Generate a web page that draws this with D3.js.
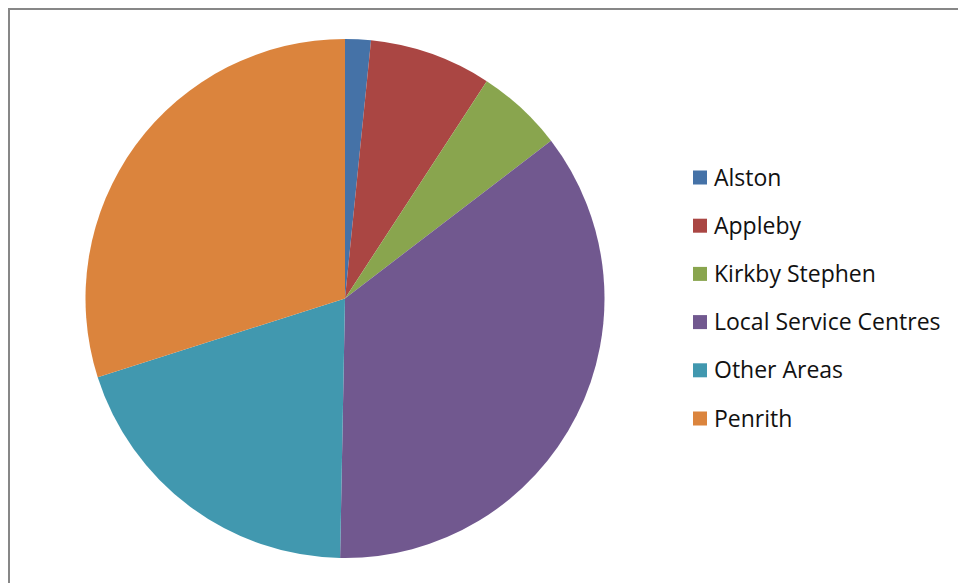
<!DOCTYPE html>
<html>
<head>
<meta charset="utf-8">
<script src="https://cdn.jsdelivr.net/npm/d3@7"></script>
<style>
  html, body { margin: 0; padding: 0; background: #fff; }
  svg { display: block; }
</style>
</head>
<body>
<svg id="chart" width="958" height="583"></svg>
<script>
// Share of the area, by settlement
const categories = ["Alston", "Appleby", "Kirkby Stephen", "Local Service Centres", "Other Areas", "Penrith"];
const values = [1.6, 7.6, 5.4, 35.7, 19.8, 29.9];
const colors = ["#4572A7", "#AA4643", "#89A54E", "#71588F", "#4198AF", "#DB843D"];

const svg = d3.select("#chart");

// Chart frame (runs off the right and bottom edges)
svg.append("rect")
  .attr("x", 9).attr("y", 9)
  .attr("width", 1000).attr("height", 700)
  .attr("fill", "#fff")
  .attr("stroke", "#878787")
  .attr("stroke-width", 2);

const cx = 345, cy = 298.5, r = 259.5;

const pie = d3.pie().sort(null).value(d => d.value);
const arc = d3.arc().innerRadius(0).outerRadius(r);
const color = d3.scaleOrdinal().domain(categories).range(colors);

const data = categories.map((c, i) => ({ name: c, value: values[i] }));

svg.append("g")
  .attr("transform", `translate(${cx},${cy})`)
  .selectAll("path")
  .data(pie(data))
  .join("path")
  .attr("d", arc)
  .attr("fill", d => color(d.data.name));

// Legend
const legendY = d3.scalePoint().domain(categories).range([177.5, 418.5]);
const legend = svg.append("g")
  .selectAll("g")
  .data(categories)
  .join("g")
  .attr("transform", d => `translate(693,${legendY(d)})`);

legend.append("rect")
  .attr("x", 0).attr("y", -7)
  .attr("width", 14).attr("height", 14)
  .attr("fill", d => color(d));

legend.append("text")
  .attr("x", 21).attr("y", 0)
  .attr("dy", "0.35em")
  .attr("font-family", "'Open Sans', sans-serif")
  .attr("font-size", 23)
  .attr("fill", "#111")
  .text(d => d);
</script>
</body>
</html>
